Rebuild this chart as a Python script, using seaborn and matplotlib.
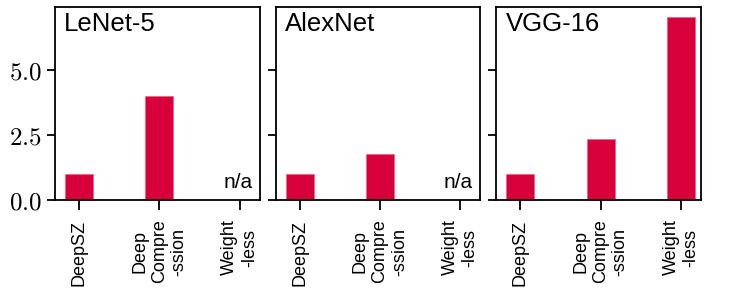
import numpy as np
import pandas as pd
import matplotlib
matplotlib.use('Agg')
import matplotlib.pyplot as plt
from matplotlib.ticker import FuncFormatter
import seaborn as sns

# Data
networks = ['LeNet-5', 'AlexNet', 'VGG-16']
methods = ['DeepSZ', 'Deep\nCompre\n-ssion', 'Weight\n-less']
lenet_time = [1.0, 4.0, np.nan]
alexnet_time = [1.0, 1.77, np.nan]
vgg_time = [1.0, 2.35, 7.05]

bar_color = '#d7003a'

sns.set_style('ticks', rc={'text.color': 'black', 'axes.labelcolor': 'black',
                           'xtick.color': 'black', 'ytick.color': 'black',
                           'axes.edgecolor': 'black'})
plt.rcParams['font.family'] = ['Liberation Sans', 'DejaVu Sans']
plt.rcParams['mathtext.fontset'] = 'cm'

df = pd.DataFrame({
    'network': np.repeat(networks, len(methods)),
    'method': methods * len(networks),
    'time': lenet_time + alexnet_time + vgg_time,
})

fig, axes = plt.subplots(1, 3, figsize=(7.48, 2.93), dpi=100, sharey=True)
fig.subplots_adjust(left=0.0735, right=0.937, top=0.976, bottom=0.317,
                    wspace=0.078)

for ax, net in zip(axes, networks):
    sub = df[df['network'] == net]
    sns.barplot(data=sub, x='method', y='time', order=methods,
                color=bar_color, saturation=1, width=0.35,
                edgecolor='#f06080', linewidth=0.5, ax=ax)
    ax.set_xlim(-0.3, 2.25)
    ax.set_ylim(0, 7.42)
    ax.set_yticks([0, 2.5, 5.0])
    ax.set_xlabel('')
    ax.set_ylabel('')
    ax.text(0.045, 0.975, net, transform=ax.transAxes, ha='left', va='top',
            fontsize=18.5)
    if sub['time'].isna().any():
        ax.text(0.965, 0.04, 'n/a', transform=ax.transAxes, ha='right',
                va='bottom', fontsize=15)
    ax.tick_params(axis='x', labelsize=13, rotation=90, length=7,
                   width=1.3, pad=7)
    ax.tick_params(axis='y', labelsize=18, length=6, width=1.3)
    for s in ax.spines.values():
        s.set_linewidth(1.3)

axes[0].yaxis.set_major_formatter(FuncFormatter(lambda v, p: f'${v:.1f}$'))
for ax in axes[1:]:
    ax.tick_params(axis='y', labelleft=False)

axes[2].yaxis.set_label_position('right')
axes[2].set_ylabel('nomalized\nencoding time', fontsize=12.5, labelpad=10)

fig.savefig('out.png', dpi=100)
